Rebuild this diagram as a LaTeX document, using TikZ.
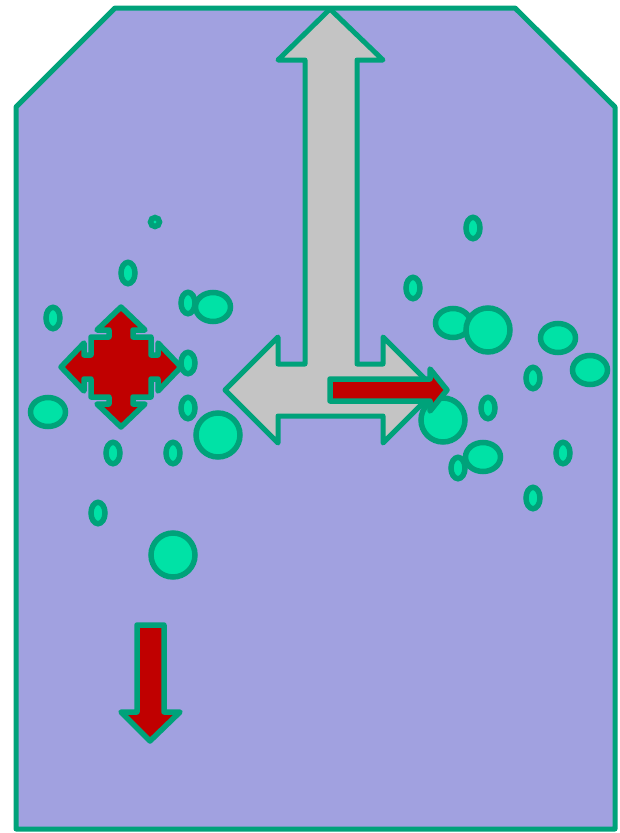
\documentclass[tikz,border=0pt]{standalone}
\usetikzlibrary{calc}

\definecolor{lavender}{RGB}{161,161,224}
\definecolor{tealline}{RGB}{0,162,122}
\definecolor{mint}{RGB}{0,226,166}
\definecolor{darkred}{RGB}{192,0,0}
\definecolor{lightgray}{RGB}{196,196,196}

\tikzset{
  frame/.style={draw=tealline,fill=lavender,line width=5pt,line join=round},
  bubble/.style={draw=tealline,fill=mint,line width=5.5pt},
  bigarrow/.style={draw=tealline,fill=lightgray,line width=5pt,line join=round},
  redarrow/.style={draw=tealline,fill=darkred,line width=5.5pt,line join=round}
}

\begin{document}
\begin{tikzpicture}[x=1pt,y=-1pt]
  \useasboundingbox (0,0) rectangle (620,833);
  % outline of the box
  \draw[frame] (115,8) -- (515,8) -- (615,107) -- (615,829) -- (16,829) -- (16,107) -- cycle;

  % grey T-shaped arrow
  \draw[bigarrow] (330,9) -- (383,60) -- (357,60) -- (357,364) -- (383,364) -- (383,337)
    -- (436,390) -- (383,443) -- (383,416) -- (278,416) -- (278,443) -- (225,390)
    -- (278,337) -- (278,364) -- (305,364) -- (305,60) -- (278,60) -- cycle;

  % small bubbles
  \draw[bubble] (155,222) circle [radius=4.5pt];
  \foreach \bx/\by in {128/273, 53/318, 188/303, 188/363, 188/408, 113/453, 173/453, 98/513,
                       473/228, 413/288, 533/378, 488/408, 458/468, 563/453, 533/498}
    \draw[bubble] (\bx,\by) ellipse [x radius=7pt, y radius=10.7pt];

  % larger flat bubbles
  \foreach \bx/\by in {213/307, 48/412, 453/323, 558/338, 590/370, 483/457}
    \draw[bubble] (\bx,\by) ellipse [x radius=17.5pt, y radius=14.5pt];

  % round bubbles
  \foreach \bx/\by in {218/435, 173/555, 488/330, 443/420}
    \draw[bubble] (\bx,\by) circle [radius=22pt];

  % red arrows
  \draw[redarrow] (330,379) -- (430,379) -- (430,369) -- (447,390) -- (430,411) -- (430,401) -- (330,401) -- cycle;
  \draw[redarrow] (137,625) -- (164,625) -- (164,712) -- (180,712) -- (150,741) -- (121,712) -- (137,712) -- cycle;

  % four-way arrow
  \begin{scope}[shift={(121,367)}]
    \draw[redarrow] (0,-60) -- (24,-37) -- (12,-37) -- (12,-30) -- (30,-30) -- (30,-12) -- (37,-12) -- (37,-24)
      -- (60,0) -- (37,24) -- (37,12) -- (30,12) -- (30,30) -- (12,30) -- (12,37) -- (24,37)
      -- (0,60) -- (-24,37) -- (-12,37) -- (-12,30) -- (-30,30) -- (-30,12) -- (-37,12) -- (-37,24)
      -- (-60,0) -- (-37,-24) -- (-37,-12) -- (-30,-12) -- (-30,-30) -- (-12,-30) -- (-12,-37) -- (-24,-37) -- cycle;
  \end{scope}
\end{tikzpicture}
\end{document}
